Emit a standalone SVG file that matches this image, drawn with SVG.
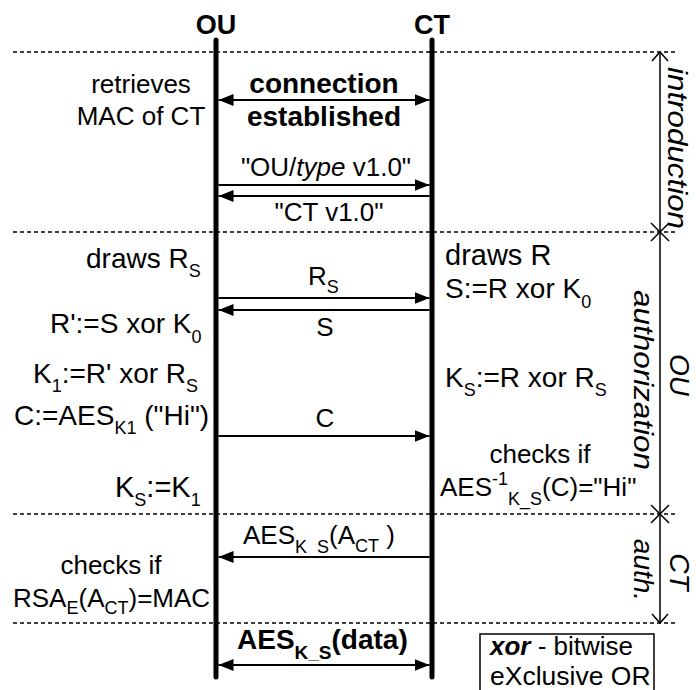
<svg xmlns="http://www.w3.org/2000/svg" width="696" height="690" viewBox="0 0 696 690">
<style>
text{font-family:"Liberation Sans",Arial,sans-serif;font-size:26px;fill:#000}
.b{font-weight:bold}
.i{font-style:italic}
.s{font-size:18px}
.life{stroke:#000;stroke-width:5;stroke-linecap:round}
.msg{stroke:#000;stroke-width:2;fill:none}
.sep{stroke:#000;stroke-width:1.5;stroke-dasharray:4 3;fill:none}
.br{stroke:#000;stroke-width:1.5;fill:none}
</style>
<defs>
<marker id="ah" markerUnits="userSpaceOnUse" markerWidth="16" markerHeight="13" refX="15" refY="6" orient="auto-start-reverse">
<path d="M0,0 L15,6 L0,12 z" fill="#000"/>
</marker>
</defs>
<g id="separators">
<line class="sep" x1="13" y1="52" x2="675" y2="52"/>
<line class="sep" x1="13" y1="232" x2="675" y2="232"/>
<line class="sep" x1="13" y1="514" x2="675" y2="514"/>
<line class="sep" x1="13" y1="623" x2="675" y2="623"/>
</g>
<g id="OU">
<text class="b" x="216" y="34" text-anchor="middle" style="font-size:27px">OU</text>
<line class="life" x1="216" y1="40" x2="216" y2="677"/>
</g>
<g id="CT">
<text class="b" x="432" y="34" text-anchor="middle" style="font-size:27px">CT</text>
<line class="life" x1="432" y1="40" x2="432" y2="677"/>
</g>
<g id="connectors">
<line class="msg" x1="218.5" y1="100" x2="429.5" y2="100" marker-start="url(#ah)" marker-end="url(#ah)"/>
<line class="msg" x1="218.5" y1="185" x2="429.5" y2="185" marker-end="url(#ah)"/>
<line class="msg" x1="429.5" y1="196" x2="218.5" y2="196" marker-end="url(#ah)"/>
<line class="msg" x1="218.5" y1="298" x2="429.5" y2="298" marker-end="url(#ah)"/>
<line class="msg" x1="429.5" y1="310" x2="218.5" y2="310" marker-end="url(#ah)"/>
<line class="msg" x1="218.5" y1="436" x2="429.5" y2="436" marker-end="url(#ah)"/>
<line class="msg" x1="429.5" y1="557" x2="218.5" y2="557" marker-end="url(#ah)"/>
<line class="msg" x1="218.5" y1="665" x2="429.5" y2="665" marker-start="url(#ah)" marker-end="url(#ah)"/>
</g>
<g id="message-labels">
<text class="b" x="324" y="93" text-anchor="middle" style="font-size:28px">connection</text>
<text class="b" x="324" y="126" text-anchor="middle" style="font-size:28px">established</text>
<text x="326" y="176" text-anchor="middle">"OU/<tspan class="i">type</tspan> v1.0"</text>
<text x="329" y="221" text-anchor="middle">"CT v1.0"</text>
<text x="308" y="285">R<tspan class="s" dy="8">S</tspan></text>
<text x="325" y="336" text-anchor="middle">S</text>
<text x="325" y="427" text-anchor="middle">C</text>
<text x="243" y="544">AES<tspan class="s" dy="9">K_S</tspan><tspan dy="-9">(A</tspan><tspan class="s" dy="8">CT</tspan><tspan dy="-8"> )</tspan></text>
<text class="b" x="237" y="649" style="font-size:28px">AES<tspan class="s" dy="10" style="font-size:19px">K_S</tspan><tspan dy="-10">(data)</tspan></text>
</g>
<g id="OU-notes">
<text x="141" y="93" text-anchor="middle">retrieves</text>
<text x="141" y="125" text-anchor="middle">MAC of CT</text>
<text x="86" y="268" style="font-size:28px">draws R<tspan class="s" dy="9">S</tspan></text>
<text x="50" y="333" style="font-size:28px">R':=S xor K<tspan class="s" dy="10">0</tspan></text>
<text x="33" y="383" style="font-size:28px">K<tspan class="s" dy="9">1</tspan><tspan dy="-9">:=R' xor R</tspan><tspan class="s" dy="9">S</tspan></text>
<text x="14" y="425" style="font-size:28px">C:=AES<tspan class="s" dy="9">K1</tspan><tspan dy="-9"> ("Hi")</tspan></text>
<text x="115" y="497" style="font-size:29px">K<tspan class="s" dy="9">S</tspan><tspan dy="-9">:=K</tspan><tspan class="s" dy="9">1</tspan></text>
<text x="111" y="574" text-anchor="middle">checks if</text>
<text x="13" y="607">RSA<tspan class="s" dy="7">E</tspan><tspan dy="-7">(A</tspan><tspan class="s" dy="7">CT</tspan><tspan dy="-7">)=MAC</tspan></text>
</g>
<g id="CT-notes">
<text x="445" y="265" style="font-size:29px">draws R</text>
<text x="445" y="298" style="font-size:28px">S:=R xor K<tspan class="s" dy="10">0</tspan></text>
<text x="445" y="387" style="font-size:28px">K<tspan class="s" dy="9">S</tspan><tspan dy="-9">:=R xor R</tspan><tspan class="s" dy="9">S</tspan></text>
<text x="540" y="463" text-anchor="middle">checks if</text>
<text x="440" y="496">AES<tspan class="s" dy="-11">-1</tspan><tspan class="s" dy="20">K_S</tspan><tspan dy="-9">(C)="Hi"</tspan></text>
</g>
<g id="phases">
<line class="br" x1="660" y1="52" x2="660" y2="623"/>
<polyline class="br" points="652,61 660,52 668,61"/>
<polyline class="br" points="652,614 660,623 668,614"/>
<path class="br" d="M651,223 L669,241 M651,241 L669,223"/>
<path class="br" d="M651,505 L669,523 M651,523 L669,505"/>
<text class="i" transform="translate(668,148) rotate(90)" text-anchor="middle" style="font-size:28px" textLength="162" lengthAdjust="spacingAndGlyphs">introduction</text>
<text class="i" transform="translate(670,375) rotate(90)" text-anchor="middle" style="font-size:28px">OU</text>
<text class="i" transform="translate(634,380) rotate(90)" text-anchor="middle" style="font-size:28px" textLength="180" lengthAdjust="spacingAndGlyphs">authorization</text>
<text class="i" transform="translate(670,572) rotate(90)" text-anchor="middle" style="font-size:28px">CT</text>
<text class="i" transform="translate(634,570) rotate(90)" text-anchor="middle" style="font-size:28px">auth.</text>
</g>
<g id="legend">
<rect x="480" y="634" width="174" height="70" fill="#fff" stroke="#000" stroke-width="1.5"/>
<text x="490" y="655"><tspan class="b i">xor</tspan> - bitwise</text>
<text x="490" y="685" style="font-size:26.5px">eXclusive OR</text>
</g>
</svg>
